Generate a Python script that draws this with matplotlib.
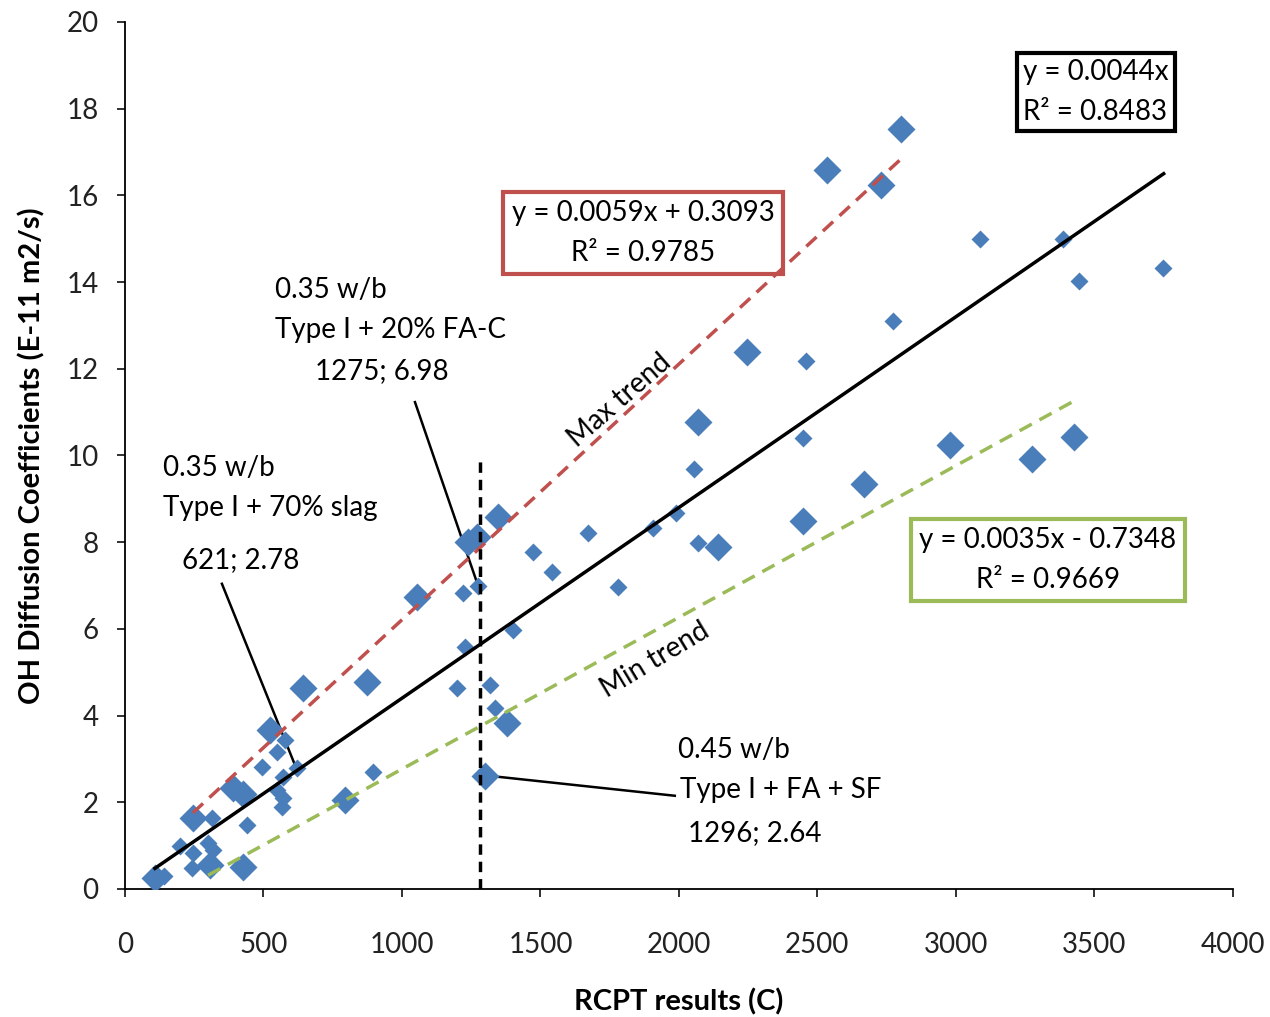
import matplotlib.pyplot as plt
import numpy as np

plt.rcParams['font.family'] = ['Lato', 'DejaVu Sans']

# large diamonds
big_x = [110, 247, 307, 391, 427, 427, 523, 644, 794, 873, 1053, 1240, 1270,
         1300, 1348, 1378, 2069, 2142, 2245, 2448, 2534, 2668, 2729, 2801,
         2978, 3274, 3426]
big_y = [0.25, 1.63, 0.55, 2.32, 2.2, 0.51, 3.67, 4.63, 2.05, 4.78, 6.74, 8.0, 8.12,
         2.6, 8.59, 3.82, 10.77, 7.89, 12.39, 8.49, 16.59, 9.34, 16.24, 17.53,
         10.24, 9.92, 10.43]
# small diamonds
small_x = [140, 199, 241, 247, 301, 313, 319, 439, 493, 548, 548, 566, 571, 571,
           578, 621, 896, 1197, 1221, 1227, 1275, 1318, 1336, 1402, 1474, 1540,
           1673, 1781, 1907, 1991, 2054, 2070, 2448, 2458, 2773, 3087, 3388,
           3446, 3748]
small_y = [0.3, 1.0, 0.48, 0.82, 1.05, 1.63, 0.9, 1.48, 2.82, 3.17, 2.28, 1.9, 2.59,
           2.09, 3.44, 2.78, 2.7, 4.63, 6.82, 5.59, 6.98, 4.7, 4.17, 5.97, 7.78,
           7.32, 8.2, 6.97, 8.32, 8.67, 9.69, 7.99, 10.4, 12.18, 13.1, 14.99,
           15.0, 14.03, 14.33]

# trend lines: (slope, intercept, x start, x end)
avg_fit = (0.0044, 0.0, 108, 3750)
max_fit = (0.0059, 0.3093, 245, 2800)
min_fit = (0.0035, -0.7348, 300, 3430)

blue = '#4a7ebb'
red = '#c0504d'
green = '#9bbb59'

fig = plt.figure(figsize=(12.7, 10.17), dpi=100)
ax = fig.add_axes([0.0984, 0.1259, 0.8724, 0.8525])

ax.plot(big_x, big_y, 'D', color=blue, ms=14, mec='none', zorder=3)
ax.plot(small_x, small_y, 'D', color=blue, ms=9.5, mec='none', zorder=3)

def fit_line(f):
    xs = np.array([f[2], f[3]])
    return xs, f[0] * xs + f[1]

xs, ys = fit_line(avg_fit)
ax.plot(xs, ys, color='black', lw=2.5, zorder=4)
xs, ys = fit_line(max_fit)
ax.plot(xs, ys, color=red, lw=2.5, ls=(0, (4, 2.5)), zorder=4)
xs, ys = fit_line(min_fit)
ax.plot(xs, ys, color=green, lw=2.5, ls=(0, (4, 2.5)), zorder=4)

ax.plot([1280, 1280], [0, 10], color='black', lw=2.5, ls=(0, (3, 2)), zorder=4)

ax.set_xlim(0, 4000)
ax.set_ylim(0, 20)
ax.set_xticks(np.arange(0, 4001, 500))
ax.set_yticks(np.arange(0, 21, 2))
ax.tick_params(labelsize=20, length=6, width=1.3, colors='#222222')
ax.tick_params(axis='x', pad=25)
ax.tick_params(axis='y', pad=13)
ax.spines['top'].set_visible(False)
ax.spines['right'].set_visible(False)
ax.spines['left'].set_linewidth(1.3)
ax.spines['bottom'].set_linewidth(1.3)

ax.set_xlabel('RCPT results (C)', fontsize=21, fontweight='bold', labelpad=22)
ax.set_ylabel('OH Diffusion Coefficients (E-11 m2/s)', fontsize=21,
              fontweight='bold', labelpad=15)

fs = 20
ax.text(3243, 18.39, 'y = 0.0044x\nR² = 0.8483', fontsize=fs, ha='left', va='center',
        linespacing=1.65,
        bbox=dict(boxstyle='square,pad=0.22', fc='white', ec='black', lw=3))
ax.text(1870, 15.13, 'y = 0.0059x + 0.3093\nR² = 0.9785', fontsize=fs, ha='center',
        va='center', multialignment='center', linespacing=1.65,
        bbox=dict(boxstyle='square,pad=0.3', fc='white', ec=red, lw=3))
ax.text(3332, 7.59, 'y = 0.0035x - 0.7348\nR² = 0.9669', fontsize=fs, ha='center',
        va='center', multialignment='center', linespacing=1.65,
        bbox=dict(boxstyle='square,pad=0.3', fc='white', ec=green, lw=3))

ax.text(1787, 11.28, 'Max trend', fontsize=fs, rotation=41, ha='center', va='center')
ax.text(1913, 5.28, 'Min trend', fontsize=fs, rotation=31, ha='center', va='center')

ax.text(541, 13.82, '0.35 w/b', fontsize=fs, va='center')
ax.text(541, 12.9, 'Type I + 20% FA-C', fontsize=fs, va='center')
ax.text(686, 11.95, '1275; 6.98', fontsize=fs, va='center')
ax.plot([1047, 1274], [11.23, 7.01], color='black', lw=1.8)

ax.text(137, 9.71, '0.35 w/b', fontsize=fs, va='center')
ax.text(137, 8.79, 'Type I + 70% slag', fontsize=fs, va='center')
ax.text(206, 7.59, '621; 2.78', fontsize=fs, va='center')
ax.plot([350, 625], [7.04, 2.68], color='black', lw=1.8)

ax.text(1996, 3.21, '0.45 w/b', fontsize=fs, va='center')
ax.text(2004, 2.28, 'Type I + FA + SF', fontsize=fs, va='center')
ax.text(2032, 1.29, '1296; 2.64', fontsize=fs, va='center')
ax.plot([1300, 1985], [2.62, 2.15], color='black', lw=1.8)

fig.savefig('out.png', dpi=100)
